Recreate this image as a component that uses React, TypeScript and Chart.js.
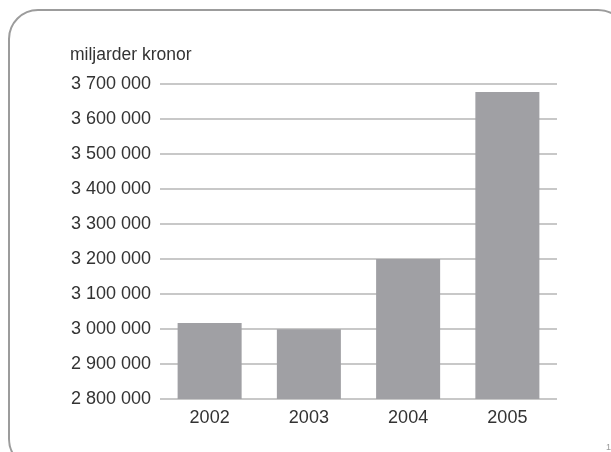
import React, { useEffect, useRef } from "react";
import { Chart, registerables } from "chart.js";

Chart.register(...registerables);

const years = ["2002", "2003", "2004", "2005"];
const values = [3017000, 2999000, 3200000, 3677000];
const yMin = 2800000;
const yMax = 3700000;
const yStep = 100000;
const unitLabel = "miljarder kronor";

const fmt = (v: number) =>
  Math.round(v)
    .toString()
    .replace(/\B(?=(\d{3})+(?!\d))/g, " ");

export default function App() {
  const ref = useRef<HTMLCanvasElement | null>(null);

  useEffect(() => {
    if (!ref.current) return;
    const chart = new Chart(ref.current, {
      type: "bar",
      data: {
        labels: years,
        datasets: [
          {
            data: values,
            backgroundColor: "#a0a0a4",
            borderWidth: 0,
            barPercentage: 0.645,
            categoryPercentage: 1,
          },
        ],
      },
      options: {
        responsive: false,
        animation: false,
        layout: { padding: { left: 0, right: 54, top: 84, bottom: 0 } },
        plugins: {
          legend: { display: false },
          tooltip: { enabled: false },
          title: { display: false },
        },
        scales: {
          x: {
            grid: { display: false, drawTicks: false },
            border: { display: false },
            ticks: {
              color: "#333333",
              padding: 8,
              font: { family: "'Liberation Sans', Arial, sans-serif", size: 18 },
            },
            afterFit: (s: any) => {
              s.height = 53;
            },
          },
          y: {
            min: yMin,
            max: yMax,
            grid: { color: "#c8c8c8", lineWidth: 2, drawTicks: false },
            border: { display: false },
            ticks: {
              stepSize: yStep,
              color: "#333333",
              padding: 9,
              font: { family: "'Liberation Sans', Arial, sans-serif", size: 18 },
              callback: (v: any) => fmt(Number(v)),
            },
            afterFit: (s: any) => {
              s.width = 160;
            },
          },
        },
      },
    });
    return () => chart.destroy();
  }, []);

  return (
    <div
      style={{
        position: "absolute",
        left: 0,
        top: 0,
        width: 611,
        height: 452,
        overflow: "hidden",
        background: "#ffffff",
      }}
    >
      <div
        style={{
          position: "absolute",
          left: 8,
          top: 9,
          width: 620,
          height: 460,
          border: "2.5px solid #9c9c9c",
          borderRadius: 30,
          boxSizing: "border-box",
        }}
      />
      <canvas
        ref={ref}
        width={611}
        height={452}
        style={{ position: "absolute", left: 0, top: 0, width: 611, height: 452 }}
      />
      <div
        style={{
          position: "absolute",
          left: 70,
          top: 45,
          fontFamily: "'Liberation Sans', Arial, sans-serif",
          fontSize: 17.5,
          lineHeight: "19px",
          color: "#333333",
          whiteSpace: "nowrap",
        }}
      >
        {unitLabel}
      </div>
      <div
        style={{
          position: "absolute",
          left: 606,
          top: 442,
          fontFamily: "'Liberation Sans', Arial, sans-serif",
          fontSize: 9,
          lineHeight: "10px",
          color: "#999999",
        }}
      >
        1
      </div>
    </div>
  );
}
